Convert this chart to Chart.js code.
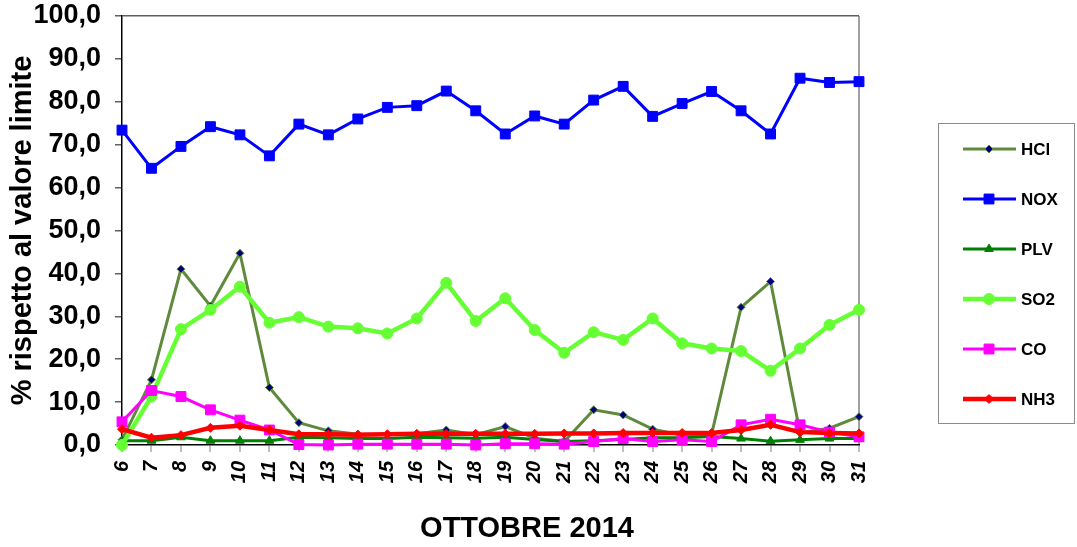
<!DOCTYPE html>
<html>
<head>
<meta charset="utf-8">
<script src="https://cdn.jsdelivr.net/npm/chart.js@4/dist/chart.umd.min.js"></script>
<style>
  html, body { margin: 0; padding: 0; background: #fff; }
  #wrap { width: 1077px; height: 547px; }
</style>
</head>
<body>
<div id="wrap"><canvas id="myChart" width="1077" height="547"></canvas></div>
<script>
const giorni = ['6', '7', '8', '9', '10', '11', '12', '13', '14', '15', '16', '17', '18', '19', '20', '21', '22', '23', '24', '25', '26', '27', '28', '29', '30', '31'];

const hcl = [1.2, 15.2, 41.0, 32.4, 44.7, 13.4, 5.2, 3.3, 2.5, 2.5, 2.6, 3.5, 2.4, 4.3, 1.6, 0.8, 8.2, 7.0, 3.7, 2.3, 2.5, 32.1, 38.1, 2.8, 3.9, 6.6];
const nox = [73.4, 64.5, 69.6, 74.2, 72.3, 67.4, 74.8, 72.3, 76.0, 78.7, 79.1, 82.5, 77.9, 72.5, 76.7, 74.8, 80.4, 83.6, 76.6, 79.6, 82.4, 77.9, 72.5, 85.5, 84.5, 84.7];
const plv = [1.0, 1.0, 1.8, 1.0, 1.0, 1.0, 1.8, 1.7, 1.5, 1.5, 1.8, 1.7, 1.6, 1.8, 1.3, 0.8, 1.0, 1.3, 1.7, 1.7, 2.0, 1.5, 0.9, 1.2, 1.5, 1.5];
const so2 = [0.0, 11.3, 27.0, 31.5, 36.9, 28.5, 29.8, 27.6, 27.2, 26.0, 29.5, 37.8, 28.9, 34.2, 26.8, 21.5, 26.3, 24.5, 29.5, 23.7, 22.5, 21.9, 17.3, 22.5, 28.0, 31.5];
const co = [5.4, 12.7, 11.3, 8.2, 5.8, 3.5, 0.1, 0.0, 0.2, 0.2, 0.2, 0.2, 0.0, 0.3, 0.3, 0.2, 0.8, 1.5, 0.8, 1.2, 0.8, 4.7, 6.0, 4.7, 3.0, 1.9];
const nh3 = [3.7, 1.7, 2.3, 4.0, 4.5, 3.5, 2.5, 2.5, 2.4, 2.5, 2.6, 2.6, 2.6, 2.6, 2.6, 2.7, 2.7, 2.8, 2.8, 2.8, 2.8, 3.5, 4.7, 3.0, 2.8, 2.7];

const FONT = "'Liberation Sans', Arial, sans-serif";

function serie(label, data, colore, spessore, punto, raggio, riempimento, ordine) {
  return {
    label,
    data,
    borderColor: colore,
    borderWidth: spessore,
    pointStyle: punto,
    pointRadius: raggio,
    pointHoverRadius: raggio,
    pointBackgroundColor: riempimento || colore,
    pointBorderColor: colore,
    pointBorderWidth: 1,
    tension: 0,
    clip: false,
    order: ordine,
  };
}

// legenda e titolo asse x disegnati a mano
const extraPlugin = {
  id: 'extra',
  afterDraw(chart) {
    const { ctx } = chart;
    ctx.save();
    ctx.strokeStyle = '#8c8c8c';
    ctx.lineWidth = 1;
    ctx.strokeRect(938.5, 123.5, 136, 300);

    ctx.font = 'bold 17px ' + FONT;
    ctx.textBaseline = 'middle';
    ctx.textAlign = 'left';
    chart.data.datasets.forEach((ds, i) => {
      const y = 149 + i * 50;
      ctx.strokeStyle = ds.borderColor;
      ctx.lineWidth = ds.borderWidth;
      ctx.beginPath();
      ctx.moveTo(963, y);
      ctx.lineTo(1016, y);
      ctx.stroke();
      ctx.fillStyle = ds.pointBackgroundColor;
      ctx.strokeStyle = ds.pointBorderColor;
      ctx.lineWidth = 1;
      Chart.helpers.drawPoint(ctx, {
        pointStyle: ds.pointStyle,
        radius: ds.pointRadius,
        borderWidth: 1,
      }, 989, y);
      ctx.fillStyle = '#000';
      ctx.fillText(ds.label, 1021, y + 1);
    });

    ctx.font = 'bold 29px ' + FONT;
    ctx.textAlign = 'center';
    ctx.fillStyle = '#000';
    ctx.fillText('OTTOBRE 2014', 527, 529);
    ctx.restore();
  },
};

const config = {
  type: 'line',
  data: {
    labels: giorni,
    datasets: [
      serie('HCl', hcl, '#5F8A3C', 3, 'rectRot', 4, '#000080', 6),
      serie('NOX', nox, '#0000FF', 3, 'rect', 7, null, 5),
      serie('PLV', plv, '#008000', 3, 'triangle', 5, null, 4),
      serie('SO2', so2, '#66FF33', 4.5, 'circle', 5.5, null, 3),
      serie('CO', co, '#FF00FF', 3, 'rect', 7, null, 2),
      serie('NH3', nh3, '#FF0000', 4.5, 'rectRot', 4.5, null, 1),
    ],
  },
  options: {
    responsive: false,
    animation: false,
    layout: { padding: { top: 16, right: 218, left: 0, bottom: 0 } },
    plugins: {
      legend: { display: false },
      tooltip: { enabled: false },
    },
    scales: {
      x: {
        offset: false,
        afterFit: (scale) => {
          scale.height = 102;
          scale.paddingLeft = 0;
          scale.paddingRight = 0;
        },
        grid: {
          drawOnChartArea: true,
          color: (c) => (c.index === giorni.length - 1 ? '#a0a0a0' : 'transparent'),
          lineWidth: 2,
          tickColor: '#808080',
          tickLength: 7,
          tickWidth: 1,
        },
        border: { color: '#000', width: 1.5 },
        ticks: {
          color: '#000',
          font: { family: FONT, size: 20, weight: 'bold', style: 'italic' },
          maxRotation: 90,
          minRotation: 90,
          padding: 9,
          autoSkip: false,
        },
      },
      y: {
        min: 0,
        max: 100,
        afterFit: (scale) => {
          scale.width = 122;
          scale.paddingTop = 0;
          scale.paddingBottom = 0;
        },
        grid: {
          drawOnChartArea: true,
          color: (c) => (c.tick && c.tick.value === 100 ? '#606060' : 'transparent'),
          tickColor: '#606060',
          tickLength: 7,
          lineWidth: 1.5,
        },
        border: { color: '#000', width: 1.5 },
        ticks: {
          stepSize: 10,
          color: '#000',
          padding: 14,
          font: { family: FONT, size: 27, weight: 'bold' },
          callback: (v) => v.toFixed(1).replace('.', ','),
        },
        title: {
          display: true,
          text: '% rispetto al valore limite',
          color: '#000',
          font: { family: FONT, size: 29, weight: 'bold' },
          padding: { top: 6, bottom: 0 },
        },
      },
    },
  },
  plugins: [extraPlugin],
};

const myChart = new Chart(document.getElementById('myChart'), config);
</script>
</body>
</html>
